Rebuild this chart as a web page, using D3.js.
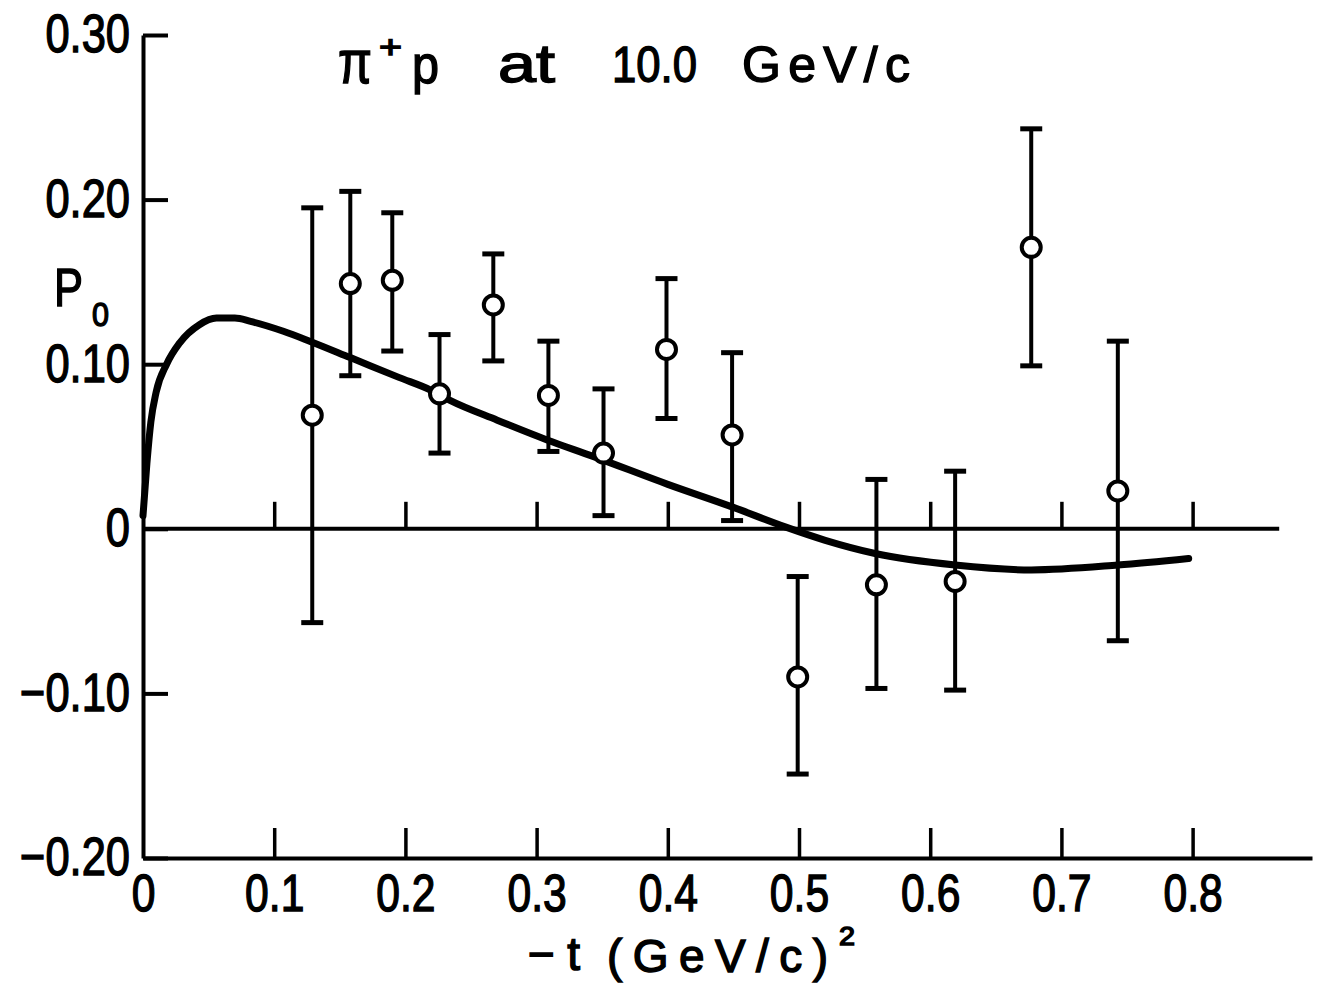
<!DOCTYPE html>
<html>
<head>
<meta charset="utf-8">
<script src="https://cdn.jsdelivr.net/npm/d3@7"></script>
<style>
  html, body { margin: 0; padding: 0; background: #fff; }
  svg { display: block; }
  text { font-family: "Liberation Sans", Arial, sans-serif; fill: #000; stroke: #000; stroke-width: 1.4px; }
</style>
</head>
<body>
<svg id="chart" width="1326" height="992"></svg>
<script>
// ---- data ----
const tPoints = [0.129, 0.158, 0.190, 0.226, 0.267, 0.309, 0.351, 0.399, 0.449, 0.499, 0.559, 0.619, 0.677, 0.743];
const pValues = [0.069, 0.149, 0.151, 0.082, 0.136, 0.081, 0.046, 0.109, 0.057, -0.090, -0.034, -0.032, 0.171, 0.023];
const pUpper  = [0.195, 0.205, 0.192, 0.118, 0.167, 0.114, 0.085, 0.152, 0.107, -0.029, 0.030, 0.035, 0.243, 0.114];
const pLower  = [-0.057, 0.093, 0.108, 0.046, 0.102, 0.047, 0.008, 0.067, 0.005, -0.149, -0.097, -0.098, 0.099, -0.068];

const curveT = [0.0, 0.003, 0.006, 0.010, 0.018, 0.028, 0.043, 0.056, 0.070, 0.082, 0.107, 0.127, 0.158, 0.195, 0.220, 0.234, 0.270, 0.308, 0.343, 0.400, 0.450, 0.490, 0.520, 0.558, 0.619, 0.677, 0.743, 0.797];
const curveP = [0.008, 0.040, 0.065, 0.083, 0.100, 0.113, 0.124, 0.128, 0.128, 0.126, 0.120, 0.114, 0.104, 0.092, 0.084, 0.078, 0.066, 0.054, 0.044, 0.027, 0.013, 0.001, -0.007, -0.015, -0.022, -0.025, -0.022, -0.018];

const xTicks = [0.1, 0.2, 0.3, 0.4, 0.5, 0.6, 0.7, 0.8];
const xTickLabels = ["0.1", "0.2", "0.3", "0.4", "0.5", "0.6", "0.7", "0.8"];
const yTicks = [0.30, 0.20, 0.10, 0, -0.10, -0.20];
const yTickLabels = ["0.30", "0.20", "0.10", "0", "\u22120.10", "\u22120.20"];

const titleParts = ["\u03c0", "+", "p", "at", "10.0", "GeV/c"];
const xTitleParts = ["\u2212t", "(GeV/c)", "2"];
const yTitleParts = ["P", "0"];

// ---- layout ----
const svg = d3.select("#chart");
const x = d3.scaleLinear().domain([0, 0.891]).range([143, 1312]);
const y = d3.scaleLinear().domain([-0.20, 0.30]).range([858, 35]);
const zeroLineEnd = 0.866;
const K = 0.82; // horizontal condensing of the lettering

const g = svg.append("g");

// theory curve
const line = d3.line().x((d, i) => x(curveT[i])).y((d, i) => y(curveP[i])).curve(d3.curveMonotoneX);
g.append("path")
  .datum(curveT)
  .attr("d", line)
  .attr("fill", "none")
  .attr("stroke", "#000")
  .attr("stroke-width", 7)
  .attr("stroke-linecap", "round");

// zero line with upward ticks
g.append("line")
  .attr("x1", x(0)).attr("x2", x(zeroLineEnd))
  .attr("y1", y(0)).attr("y2", y(0))
  .attr("stroke", "#000").attr("stroke-width", 4);
const zeroAxis = g.append("g")
  .attr("transform", `translate(0,${y(0)})`)
  .call(d3.axisBottom(x).tickValues(xTicks).tickSize(-27).tickFormat(""));
zeroAxis.select(".domain").remove();
zeroAxis.selectAll(".tick line").attr("stroke", "#000").attr("stroke-width", 3.5);

// bottom axis
const xAxis = g.append("g")
  .attr("transform", `translate(0,${y(-0.20)})`)
  .call(d3.axisBottom(x).tickValues([0].concat(xTicks))
    .tickFormat((d, i) => i === 0 ? "0" : xTickLabels[i - 1])
    .tickSizeInner(-30).tickSizeOuter(0).tickPadding(16));
xAxis.select(".domain").attr("stroke", "#000").attr("stroke-width", 4);
xAxis.selectAll(".tick line").attr("stroke", "#000").attr("stroke-width", 3.5)
  .filter(d => d === 0).remove();
xAxis.selectAll(".tick text")
  .attr("font-size", 52)
  .attr("font-family", "Liberation Sans, Arial, sans-serif")
  .attr("fill", "#000")
  .attr("transform", `scale(${K},1)`);

// left axis
const yAxis = g.append("g")
  .attr("transform", `translate(${x(0)},0)`)
  .call(d3.axisLeft(y).tickValues(yTicks)
    .tickFormat((d, i) => yTickLabels[i])
    .tickSizeInner(-25).tickSizeOuter(0).tickPadding(12));
yAxis.select(".domain").attr("stroke", "#000").attr("stroke-width", 4);
yAxis.selectAll(".tick line").attr("stroke", "#000").attr("stroke-width", 4);
yAxis.selectAll(".tick text")
  .attr("font-size", 53)
  .attr("font-family", "Liberation Sans, Arial, sans-serif")
  .attr("fill", "#000")
  .attr("x", -13 / K)
  .attr("transform", `scale(${K},1)`);

// error bars
const capW = 11;
const eb = g.append("g").attr("stroke", "#000");
tPoints.forEach((t, i) => {
  eb.append("line")
    .attr("x1", x(t)).attr("x2", x(t))
    .attr("y1", y(pUpper[i])).attr("y2", y(pLower[i]))
    .attr("stroke-width", 4);
  [pUpper[i], pLower[i]].forEach(v => {
    eb.append("line")
      .attr("x1", x(t) - capW).attr("x2", x(t) + capW)
      .attr("y1", y(v)).attr("y2", y(v))
      .attr("stroke-width", 5);
  });
});

// data points (open circles)
g.append("g").selectAll("circle")
  .data(tPoints)
  .join("circle")
  .attr("cx", d => x(d))
  .attr("cy", (d, i) => y(pValues[i]))
  .attr("r", 9.5)
  .attr("fill", "#fff")
  .attr("stroke", "#000")
  .attr("stroke-width", 4);

// helper for condensed lettering
function letter(str, x0, base, size, width, adjust) {
  svg.append("text")
    .attr("x", x0).attr("y", base)
    .attr("font-size", size)
    .attr("textLength", width)
    .attr("lengthAdjust", adjust || "spacingAndGlyphs")
    .text(str);
}

// title
letter(titleParts[0], 338, 83, 62, 34);
letter(titleParts[1], 379, 58, 32, 23);
letter(titleParts[2], 412, 83, 53, 27);
letter(titleParts[3], 498, 82, 53, 57);
letter(titleParts[4], 612, 82, 50, 85);
letter(titleParts[5], 742, 82, 50, 168, "spacing");

// x-axis title
letter(xTitleParts[0], 528, 970, 46, 52, "spacing");
letter(xTitleParts[1], 607, 972, 46, 221, "spacing");
letter(xTitleParts[2], 839, 945, 25, 16);

// y-axis title
letter(yTitleParts[0], 54, 306, 54, 29);
letter(yTitleParts[1], 92, 326, 34, 17);
</script>
</body>
</html>
